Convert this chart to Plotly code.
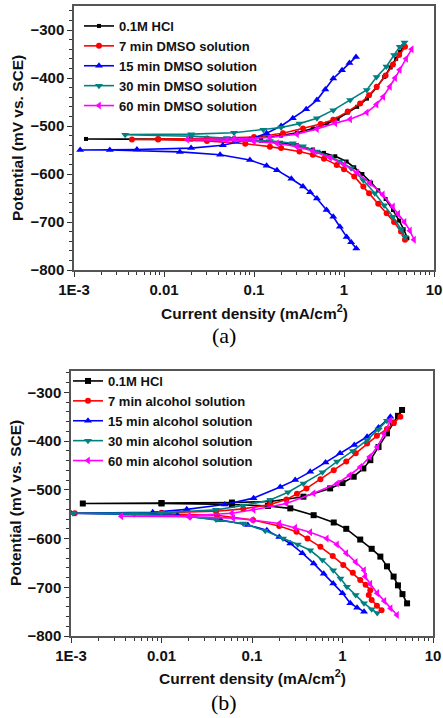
import plotly.graph_objects as go

# ---------------- (a) DMSO solutions : current density (mA/cm2), potential (mV vs SCE)
a_hcl_i = [5.06, 4.6, 4.1, 3.5, 2.9, 2.4, 2.0, 1.6, 1.3, 1.07, 0.8, 0.6, 0.45, 0.3, 0.2, 0.12, 0.06, 0.02, 0.00136,
           0.02, 0.06, 0.12, 0.2, 0.3, 0.45, 0.65, 0.85, 1.1, 1.4, 1.8, 2.3, 2.8, 3.3, 3.8, 4.2, 4.6]
a_hcl_E = [-734, -715, -697, -675, -652, -634, -618, -600, -586, -574, -563, -556, -549, -540, -535, -531, -529, -528, -527,
           -527, -526, -524, -520, -514, -505, -495, -485, -472, -460, -443, -420, -398, -378, -360, -346, -333]

a_7_i = [4.76, 4.3, 3.6, 2.98, 2.4, 1.9, 1.64, 1.3, 1.0, 0.83, 0.6, 0.45, 0.32, 0.2, 0.15, 0.08, 0.03, 0.0086, 0.0044,
         0.0086, 0.03, 0.1, 0.21, 0.35, 0.55, 0.76, 1.1, 1.51, 1.9, 2.31, 2.9, 3.5, 4.1, 4.76]
a_7_E = [-737, -720, -700, -682, -662, -640, -626, -605, -590, -581, -568, -560, -553, -546, -543, -537, -531, -528, -528,
         -527, -526, -523, -515, -505, -496, -487, -470, -453, -436, -418, -395, -372, -352, -335]

a_15_i = [1.37, 1.2, 1.07, 0.9, 0.76, 0.64, 0.5, 0.42, 0.35, 0.26, 0.18, 0.138, 0.09, 0.042, 0.015, 0.0025, 0.00117,
          0.005, 0.02, 0.045, 0.09, 0.138, 0.2, 0.27, 0.38, 0.5, 0.62, 0.76, 0.95, 1.15, 1.36]
a_15_E = [-755, -742, -731, -710, -689, -675, -651, -638, -626, -610, -592, -583, -571, -560, -554, -550, -550,
          -549, -546, -540, -528, -515, -500, -484, -465, -446, -424, -401, -384, -369, -356]

a_30_i = [4.76, 4.3, 3.5, 2.8, 2.2, 1.64, 1.2, 0.9, 0.7, 0.5, 0.35, 0.27, 0.15, 0.098, 0.05, 0.02, 0.0037,
          0.02, 0.06, 0.127, 0.2, 0.32, 0.5, 0.76, 1.17, 1.79, 2.3, 2.96, 3.6, 4.16, 4.7]
a_30_E = [-731, -715, -689, -665, -640, -613, -588, -574, -564, -553, -542, -536, -531, -529, -525, -521, -518,
          -517, -514, -508, -503, -495, -484, -467, -446, -425, -398, -376, -352, -335, -326]

a_60_i = [6.0, 5.4, 4.7, 4.0, 3.5, 2.7, 1.94, 1.4, 1.0, 0.7, 0.45, 0.3, 0.18, 0.1, 0.05, 0.018,
          0.06, 0.15, 0.3, 0.5, 0.8, 1.17, 1.79, 2.3, 2.73, 3.24, 3.7, 4.16, 4.9, 5.65]
a_60_E = [-737, -718, -700, -683, -668, -643, -619, -597, -580, -566, -552, -543, -536, -532, -530, -528,
          -527, -524, -517, -506, -494, -486, -472, -455, -439, -418, -400, -383, -360, -340]

# ---------------- (b) alcohol solutions
b_hcl_i = [5.17, 4.6, 4.1, 3.67, 3.1, 2.62, 2.1, 1.57, 1.1, 0.8, 0.48, 0.265, 0.15, 0.06, 0.01, 0.00135,
           0.01, 0.06, 0.159, 0.37, 0.73, 1.0, 1.33, 1.7, 2.03, 2.5, 3.1, 3.6, 4.1, 4.55]
b_hcl_E = [-733, -714, -696, -678, -657, -637, -621, -602, -580, -567, -552, -538, -533, -530, -528, -528,
           -527, -526, -524, -514, -497, -486, -473, -456, -439, -412, -384, -362, -348, -336]

b_7_i = [2.7, 2.4, 2.1, 1.95, 2.03, 1.8, 1.57, 1.3, 1.02, 0.78, 0.57, 0.41, 0.31, 0.2, 0.103, 0.041, 0.01, 0.0011,
         0.01, 0.04, 0.08, 0.159, 0.24, 0.314, 0.4, 0.57, 0.8, 1.1, 1.4, 1.87, 2.4, 3.1, 3.7, 4.36]
b_7_E = [-747, -738, -726, -716, -706, -695, -685, -670, -654, -636, -617, -600, -586, -574, -562, -552, -549, -548,
         -547, -544, -539, -530, -520, -508, -497, -478, -460, -442, -425, -405, -389, -375, -362, -350]

b_15_i = [1.73, 1.45, 1.22, 1.0, 0.79, 0.62, 0.48, 0.36, 0.265, 0.2, 0.146, 0.09, 0.045, 0.015, 0.001,
          0.008, 0.019, 0.05, 0.104, 0.205, 0.3, 0.44, 0.65, 0.94, 1.35, 1.87, 2.5, 3.38]
b_15_E = [-750, -742, -733, -712, -692, -672, -651, -630, -610, -597, -583, -572, -562, -552, -548,
          -546, -540, -530, -517, -494, -480, -463, -444, -425, -408, -391, -372, -350]

b_30_i = [2.42, 2.1, 1.73, 1.4, 1.12, 0.95, 0.79, 0.6, 0.44, 0.32, 0.22, 0.14, 0.08, 0.04, 0.021, 0.005, 0.00105,
          0.01, 0.04, 0.08, 0.159, 0.25, 0.37, 0.6, 0.87, 1.3, 1.87, 2.5, 3.1]
b_30_E = [-753, -745, -733, -716, -699, -682, -665, -644, -624, -612, -600, -584, -569, -561, -555, -550, -548,
          -547, -541, -532, -521, -505, -487, -464, -442, -420, -398, -376, -358]

b_60_i = [4.0, 3.4, 2.9, 2.42, 2.03, 1.78, 1.73, 1.4, 1.1, 0.87, 0.67, 0.44, 0.3, 0.2, 0.1, 0.062, 0.02, 0.0036,
          0.02, 0.06, 0.104, 0.24, 0.48, 0.87, 1.2, 1.57, 2.0, 2.42, 2.9, 3.38]
b_60_E = [-757, -743, -728, -712, -693, -678, -665, -648, -630, -612, -600, -587, -578, -569, -562, -558, -555, -554,
          -553, -548, -541, -528, -507, -487, -470, -453, -432, -412, -385, -357]

a_names = ["0.1M HCl", "7 min DMSO solution", "15 min DMSO solution", "30 min DMSO solution", "60 min DMSO solution"]
b_names = ["0.1M HCl", "7 min alcohol solution", "15 min alcohol solution", "30 min alcohol solution", "60 min alcohol solution"]

x_tickvals = [0.001, 0.01, 0.1, 1, 10]
x_ticktext = ["1E-3", "0.01", "0.1", "1", "10"]

colors = ["#000000", "#FF0000", "#0000FF", "#008080", "#FF00FF"]
symbols = ["square", "circle", "triangle-up", "triangle-down", "triangle-left"]
a_sizes = [4, 6, 7, 7, 7]
b_sizes = [6, 6, 7, 7, 7]

a_sets = [(a_hcl_i, a_hcl_E), (a_7_i, a_7_E), (a_15_i, a_15_E), (a_30_i, a_30_E), (a_60_i, a_60_E)]
b_sets = [(b_hcl_i, b_hcl_E), (b_7_i, b_7_E), (b_15_i, b_15_E), (b_30_i, b_30_E), (b_60_i, b_60_E)]

fig = go.Figure()
for k, (xi, ye) in enumerate(a_sets):
    fig.add_trace(go.Scatter(x=xi, y=ye, mode="lines+markers", name=a_names[k],
                             line=dict(color=colors[k], width=1.6),
                             marker=dict(symbol=symbols[k], size=a_sizes[k], color=colors[k]),
                             xaxis="x", yaxis="y", legend="legend"))
for k, (xi, ye) in enumerate(b_sets):
    fig.add_trace(go.Scatter(x=xi, y=ye, mode="lines+markers", name=b_names[k],
                             line=dict(color=colors[k], width=1.6),
                             marker=dict(symbol=symbols[k], size=b_sizes[k], color=colors[k]),
                             xaxis="x2", yaxis="y2", legend="legend2"))

W, H = 443, 718
FONT = "Liberation Sans, Arial, sans-serif"
tickfont = dict(family=FONT, size=15, color="#111111", weight="bold")
minor_x = [m * 10 ** d for d in (-3, -2, -1, 0) for m in range(2, 10)]

def xax(dom):
    return dict(type="log", range=[-3, 1], domain=dom, showline=True, mirror=True, automargin=False,
                linecolor="#555555", linewidth=1.5, ticks="outside", ticklen=5, tickwidth=1.2,
                tickcolor="#333333", tickvals=x_tickvals, ticktext=x_ticktext, tickfont=tickfont,
                showgrid=False, zeroline=False,
                minor=dict(ticks="outside", ticklen=3, tickwidth=1, tickcolor="#333333", tickvals=minor_x))

def yax(dom, rng, anchor):
    return dict(range=rng, domain=dom, anchor=anchor, showline=True, mirror=True, automargin=False,
                linecolor="#555555", linewidth=1.5, ticks="outside", ticklen=5, tickwidth=1.2,
                tickcolor="#333333", tick0=-800, dtick=100, tickfont=tickfont,
                showgrid=False, zeroline=False,
                minor=dict(ticks="outside", ticklen=3, tickwidth=1, tickcolor="#333333", dtick=20))

xa = xax([74 / W, 434 / W]); xa["anchor"] = "y"
xb = xax([71 / W, 433 / W]); xb["anchor"] = "y2"

legfont = dict(family=FONT, size=13, color="#111111", weight="bold")
fig.update_layout(
    width=W, height=H, margin=dict(l=0, r=0, t=0, b=0, autoexpand=False),
    paper_bgcolor="white", plot_bgcolor="white",
    xaxis=xa, xaxis2=xb,
    yaxis=yax([1 - 270 / H, 1 - 6 / H], [-800, -250], "x"),
    yaxis2=yax([1 - 636 / H, 1 - 371 / H], [-800, -256], "x2"),
    legend=dict(x=79 / W, y=1 - 11 / H, xanchor="left", yanchor="top", bgcolor="rgba(0,0,0,0)",
                font=legfont, tracegroupgap=0, itemwidth=30),
    legend2=dict(x=68 / W, y=1 - 366 / H, xanchor="left", yanchor="top", bgcolor="rgba(0,0,0,0)",
                 font=legfont, tracegroupgap=0, itemwidth=30),
    showlegend=True,
)

titlefont = dict(family=FONT, size=15.5, color="#111111", weight="bold")
capfont = dict(family="Liberation Serif, Times New Roman, serif", size=22, color="#000000")
ann = [
    dict(text="Potential (mV vs. SCE)", x=17 / W, y=1 - 138 / H, textangle=-90, font=titlefont),
    dict(text="Current density (mA/cm<sup>2</sup>)", x=254 / W, y=1 - 312 / H, font=titlefont),
    dict(text="(a)", x=224 / W, y=1 - 335 / H, font=capfont),
    dict(text="Potential (mV vs. SCE)", x=15 / W, y=1 - 503 / H, textangle=-90, font=titlefont),
    dict(text="Current density (mA/cm<sup>2</sup>)", x=252 / W, y=1 - 677 / H, font=titlefont),
    dict(text="(b)", x=224 / W, y=1 - 702 / H, font=capfont),
]
for a in ann:
    a.update(xref="paper", yref="paper", showarrow=False, xanchor="center", yanchor="middle")
fig.update_layout(annotations=ann)

fig.write_html("out.html", config={"displayModeBar": False},
               post_script="document.body.style.margin='0';document.body.style.overflow='hidden';")
